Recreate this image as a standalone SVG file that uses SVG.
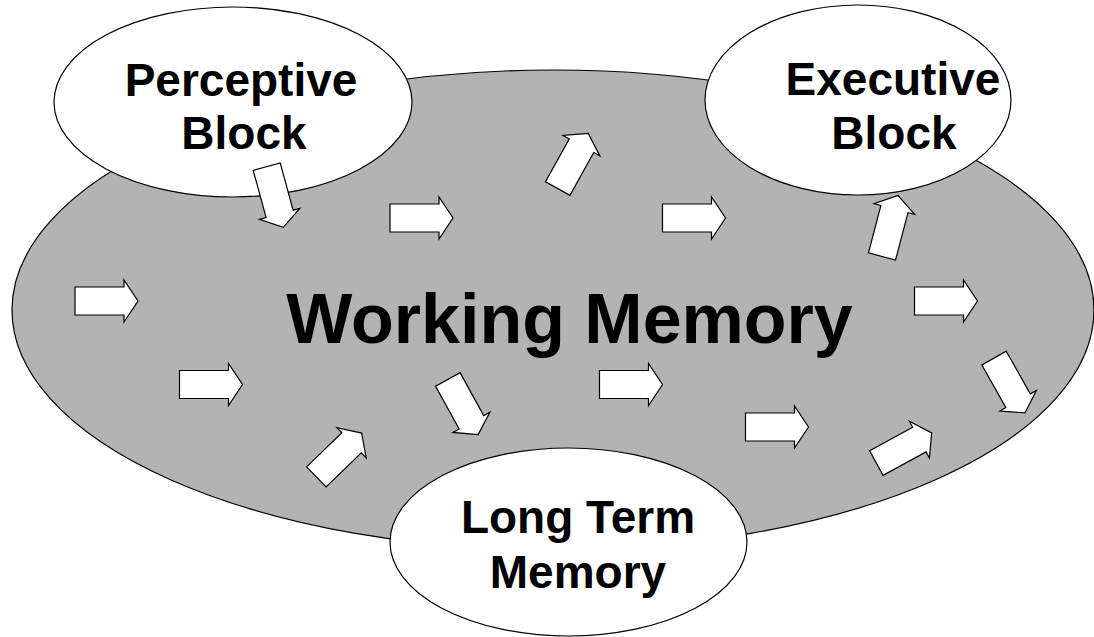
<svg xmlns="http://www.w3.org/2000/svg" width="1094" height="637" viewBox="0 0 1094 637">
  <style>
    .wm { fill: #b3b3b3; stroke: #000; stroke-width: 1.2; }
    .blk { fill: #fff; stroke: #000; stroke-width: 1.2; }
    .arr { fill: #fff; stroke: #000; stroke-width: 1.2; stroke-linejoin: miter; }
    .lbl { font-family: "Liberation Sans", Arial, sans-serif; font-weight: bold; fill: #000; text-anchor: middle; }
  </style>
  <defs>
    <path id="ba" d="M-31.5,-14 H17.5 V-21 L31.5,0 L17.5,21 V14 H-31.5 Z"/>
  </defs>
  <rect x="0" y="0" width="1094" height="637" fill="#fff"/>
  <g id="working-memory">
    <ellipse class="wm" cx="553" cy="310" rx="541" ry="240"/>
    <text class="lbl" x="569.5" y="343" font-size="70">Working Memory</text>
  </g>
  <g id="perceptive-block">
    <ellipse class="blk" cx="233" cy="102" rx="179" ry="95"/>
    <text class="lbl" x="241" y="96" font-size="46">Perceptive</text>
    <text class="lbl" x="244" y="149" font-size="46">Block</text>
  </g>
  <g id="executive-block">
    <ellipse class="blk" cx="858" cy="100" rx="153" ry="95"/>
    <text class="lbl" x="893" y="95" font-size="46">Executive</text>
    <text class="lbl" x="894" y="149" font-size="46">Block</text>
  </g>
  <g id="long-term-memory">
    <ellipse class="blk" cx="568.5" cy="542" rx="178.5" ry="94"/>
    <text class="lbl" x="578" y="533" font-size="46">Long Term</text>
    <text class="lbl" x="578" y="588" font-size="46">Memory</text>
  </g>
  <g id="connectors">
    <use href="#ba" class="arr" transform="translate(275,197) rotate(74.7)"/>
    <use href="#ba" class="arr" transform="translate(421.5,218)"/>
    <use href="#ba" class="arr" transform="translate(573,161) rotate(-61)"/>
    <use href="#ba" class="arr" transform="translate(694,218)"/>
    <use href="#ba" class="arr" transform="translate(890,226) rotate(-75.3)"/>
    <use href="#ba" class="arr" transform="translate(106.5,301)"/>
    <use href="#ba" class="arr" transform="translate(946,301)"/>
    <use href="#ba" class="arr" transform="translate(211,384.5)"/>
    <use href="#ba" class="arr" transform="translate(463,407) rotate(61.2)"/>
    <use href="#ba" class="arr" transform="translate(631,384.5)"/>
    <use href="#ba" class="arr" transform="translate(777,427)"/>
    <use href="#ba" class="arr" transform="translate(339,455) rotate(-44)"/>
    <use href="#ba" class="arr" transform="translate(904,448) rotate(-28.6)"/>
    <use href="#ba" class="arr" transform="translate(1009.5,385.5) rotate(60.6)"/>
  </g>
</svg>
